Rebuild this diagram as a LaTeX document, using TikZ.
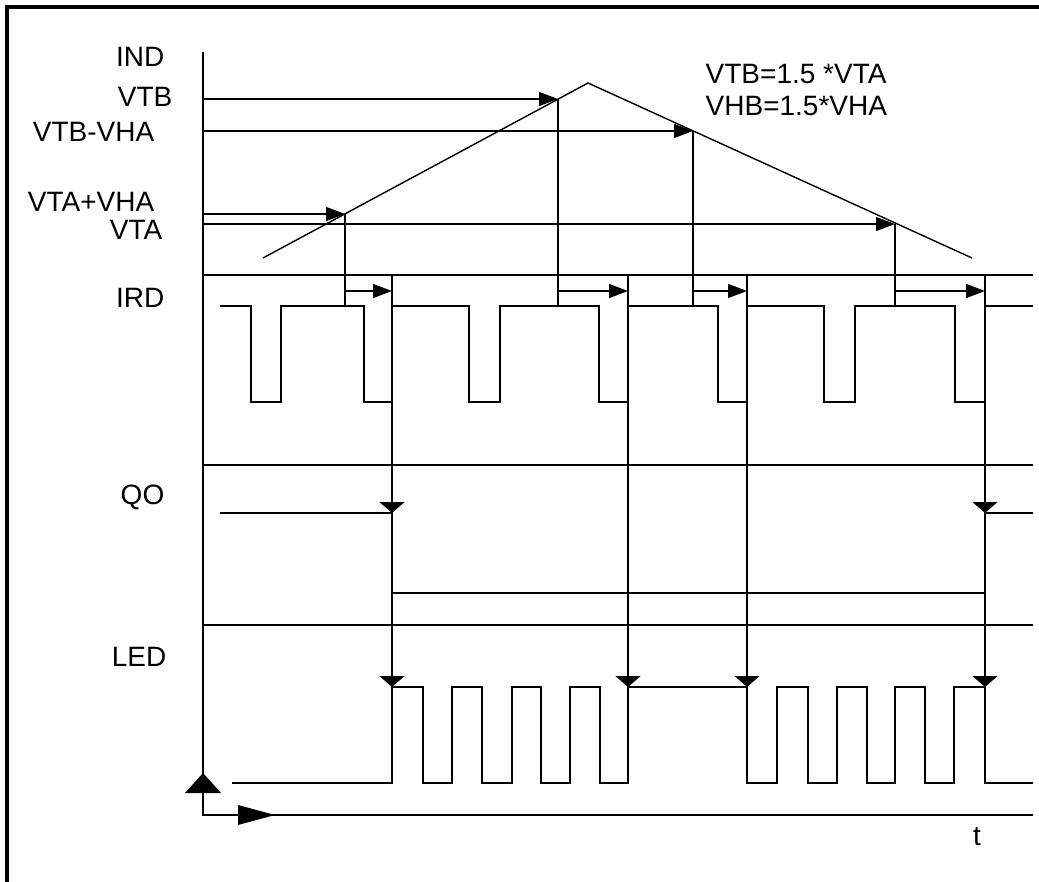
\documentclass[tikz,border=0pt]{standalone}
\usepackage{fontspec}
\setmainfont{Liberation Sans}
\usetikzlibrary{arrows.meta}
\begin{document}
\begin{tikzpicture}[x=0.5pt,y=-0.5pt, line width=0.7pt,
  lbl/.style={font=\fontsize{14}{16}\selectfont, inner sep=0pt},
  rarr/.style={-{Triangle[length=9.5pt,width=7pt]}},
  darr/.style={-{Triangle[length=5.5pt,width=12.5pt]}},
  frameline/.style={line width=1.6pt}]
\useasboundingbox (0,0) rectangle (1039,882);
\draw[frameline] (7,882) -- (7,7) -- (1039,7);
% axes
\coordinate (ytop) at (203,52);
\coordinate (O) at (203,815);
\coordinate (xend) at (1033,815);
\draw (ytop) -- (O) -- (xend);
\fill (203,773) -- (221,793) -- (185,793) -- cycle;
\fill (275,815) -- (238,805) -- (238,825) -- cycle;
% separators
\foreach \y in {275,465,625} \draw (203,\y) -- (1033,\y);
% ramp
\coordinate (rs) at (263,258);
\coordinate (pk) at (588,83);
\coordinate (re) at (972,258);
\draw (rs) -- (pk) -- (re);
% intersection points
\coordinate (pA1) at (345,214);
\coordinate (pB) at (558,99);
\coordinate (pA2) at (693,131);
\coordinate (pA3) at (895,224);
\draw[rarr] (203,99) -- (pB);
\draw[rarr] (203,131) -- (pA2);
\draw[rarr] (203,214) -- (pA1);
\draw[rarr] (203,224) -- (pA3);
\foreach \p in {pA1,pB,pA2,pA3} \draw (\p) -- (\p |- 0,306);
% IRD arrows
\draw[rarr] (345,291) -- (392,291);
\draw[rarr] (558,291) -- (628,291);
\draw[rarr] (693,291) -- (747,291);
\draw[rarr] (895,291) -- (985,291);
% long verticals
\foreach \x in {392,628,747,985} \draw (\x,275) -- (\x,783);
% IRD waveform
\draw (220,306) -| (251,402) -| (281,306) -| (364,402) -| (392,306) -| (469,402) -| (500,306) -| (599,402) -| (628,306) -| (718,402) -| (747,306) -| (824,402) -| (855,306) -| (955,402) -| (985,306) -- (1033,306);
% QO
\draw (220,513) -- (392,513);
\draw (392,593) -- (985,593);
\draw (985,513) -- (1033,513);
\draw[darr] (392,480) -- (392,513);
\draw[darr] (985,480) -- (985,513);
% LED
\draw (232,783) -| (392,687) -| (423,783) -| (452,687) -| (482,783) -| (512,687) -| (541,783) -| (570,687) -| (600,783) -| (628,687) -| (747,783) -| (777,687) -| (808,783) -| (837,687) -| (867,783) -| (895,687) -| (925,783) -| (954,687) -| (985,783) -- (1033,783);
\foreach \x in {392,628,747,985} \draw[darr] (\x,650) -- (\x,687);
% labels
\node[lbl, anchor=east] (lIND) at (165,57) {IND};
\node[lbl, anchor=east] (lVTB) at (173,97) {VTB};
\node[lbl, anchor=east] (lVTBVHA) at (155,132) {VTB-VHA};
\node[lbl, anchor=east] (lVTAVHA) at (155,202) {VTA+VHA};
\node[lbl, anchor=east] (lVTA) at (163,230) {VTA};
\node[lbl, anchor=east] (lIRD) at (165,298) {IRD};
\node[lbl, anchor=east] (lQO) at (165,497) {QO};
\node[lbl, anchor=east] (lLED) at (167,657) {LED};
\node[lbl] (lt) at (977,837) {t};
\node[lbl, anchor=west] (eq1) at (705,74) {VTB=1.5 *VTA};
\node[lbl, anchor=west] (eq2) at (705,106) {VHB=1.5*VHA};
\end{tikzpicture}
\end{document}
